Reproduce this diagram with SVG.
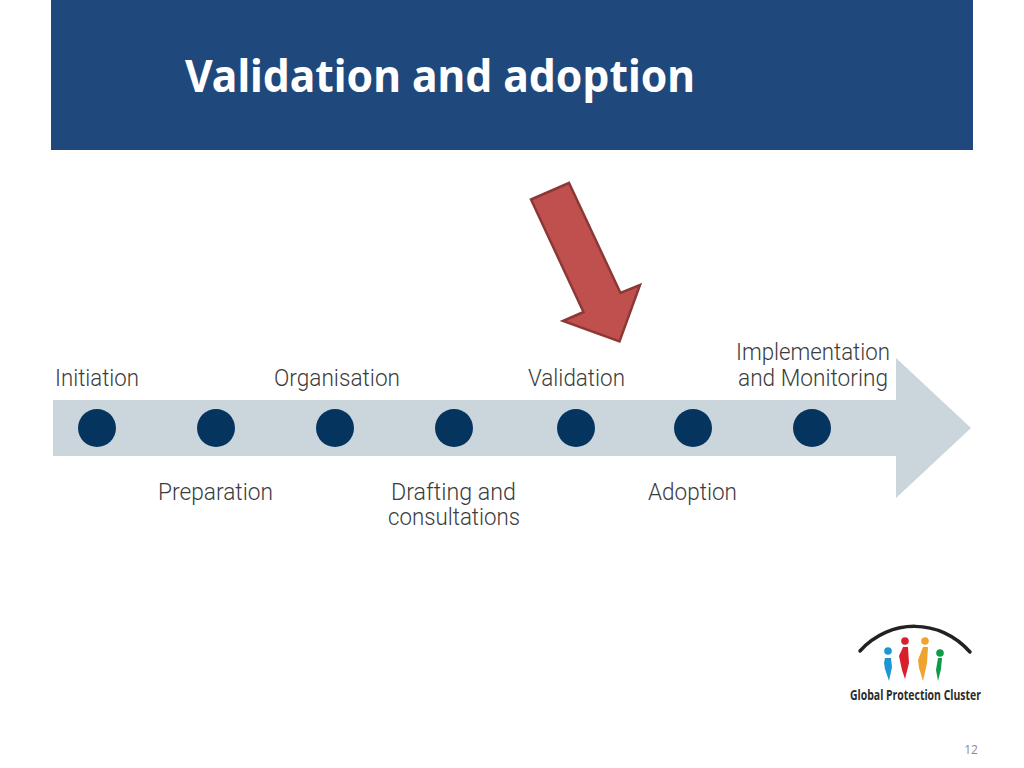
<svg xmlns="http://www.w3.org/2000/svg" width="1024" height="768" viewBox="0 0 1024 768">
<style>
.lb{font-family:"Roboto","Liberation Sans",sans-serif;font-weight:300;font-size:23px;fill:#3c3c3c;text-anchor:middle}
.dot{fill:#05355f}
.logo{font-family:"Open Sans","Liberation Sans",sans-serif;font-weight:700;font-size:14px;fill:#2b2b2b}
</style>
<rect width="1024" height="768" fill="#fff"/>
<g id="header">
<rect x="51" y="0" width="922" height="150" fill="#1f497d"/>
<text x="185" y="92" font-family="'Noto Sans','Liberation Sans',sans-serif" font-weight="700" font-size="45" fill="#fff" textLength="510" lengthAdjust="spacingAndGlyphs">Validation and adoption</text>
</g>
<g id="pointer">
<path d="M531 199.500 569 183 620.500 293 640 285 619.500 341.500 563 321 583.500 312Z" fill="#c0504d" stroke="#8c3836" stroke-width="2.500" stroke-linejoin="miter"/>
</g>
<g id="timeline-bar">
<path d="M53 400H896V358L971 428 896 498V456H53Z" fill="#cbd5dc"/>
</g>
<g id="connectors"></g>
<g id="node-initiation"><circle class="dot" cx="97" cy="428" r="19"/><text class="lb" x="97" y="386" textLength="84" lengthAdjust="spacingAndGlyphs">Initiation</text></g>
<g id="node-preparation"><circle class="dot" cx="216" cy="428" r="19"/><text class="lb" x="215.500" y="500" textLength="115" lengthAdjust="spacingAndGlyphs">Preparation</text></g>
<g id="node-organisation"><circle class="dot" cx="335" cy="428" r="19"/><text class="lb" x="337" y="386" textLength="126" lengthAdjust="spacingAndGlyphs">Organisation</text></g>
<g id="node-drafting"><circle class="dot" cx="454" cy="428" r="19"/><text class="lb" x="453.500" y="500" textLength="125" lengthAdjust="spacingAndGlyphs">Drafting and</text><text class="lb" x="454" y="525" textLength="132" lengthAdjust="spacingAndGlyphs">consultations</text></g>
<g id="node-validation"><circle class="dot" cx="576" cy="428" r="19"/><text class="lb" x="576.500" y="386" textLength="97" lengthAdjust="spacingAndGlyphs">Validation</text></g>
<g id="node-adoption"><circle class="dot" cx="693" cy="428" r="19"/><text class="lb" x="692.500" y="500" textLength="89" lengthAdjust="spacingAndGlyphs">Adoption</text></g>
<g id="node-implementation"><circle class="dot" cx="812" cy="428" r="19"/><text class="lb" x="813" y="360" textLength="154" lengthAdjust="spacingAndGlyphs">Implementation</text><text class="lb" x="813" y="386" textLength="150" lengthAdjust="spacingAndGlyphs">and Monitoring</text></g>
<g id="logo">
<path d="M860 651C890 618 940 618 970 652" fill="none" stroke="#222" stroke-width="3.500" stroke-linecap="round"/>
<circle cx="888" cy="651" r="3.800" fill="#1d97d4"/>
<path d="M885 658H891L892 667 889 681 885 669 884 663Z" fill="#1d97d4"/>
<circle cx="905" cy="641" r="3.800" fill="#d9202a"/>
<path d="M903 647H908L909 663 905 679 902 670 899 656Z" fill="#d9202a"/>
<circle cx="925" cy="641" r="3.800" fill="#f0a32f"/>
<path d="M923 647H928L927 663 923 681 919 668 918 660Z" fill="#f0a32f"/>
<circle cx="940" cy="653" r="3.800" fill="#0f9a4a"/>
<path d="M938 658H942L941 669 938 681 936 670Z" fill="#0f9a4a"/>
<text class="logo" x="850" y="700" textLength="131" lengthAdjust="spacingAndGlyphs">Global Protection Cluster</text>
</g>
<text id="page-number" x="971" y="754" font-family="'Open Sans','Liberation Sans',sans-serif" font-size="12" fill="#8b8b8b" text-anchor="middle">12</text>
</svg>
